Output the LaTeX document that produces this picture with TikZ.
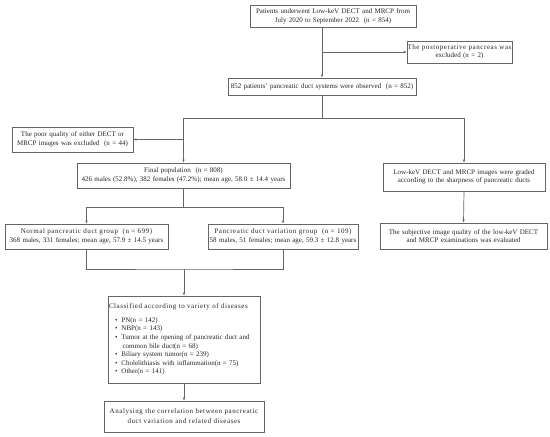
\documentclass[tikz,border=0pt]{standalone}
\usepackage{fontspec}
\setmainfont{Liberation Serif}
\usetikzlibrary{arrows.meta}
\newcommand{\spaced}[1]{{\addfontfeature{LetterSpace=8}#1}}

\begin{document}
\begin{tikzpicture}[x=1pt,y=-1pt,
		box/.style={draw=black!60,line width=0.7pt,inner sep=0pt,align=center,text=black!85,
			font=\fontsize{7}{8.6}\selectfont},
		ln/.style={draw=black!60,line width=0.7pt},
		arr/.style={ln,-{Latex[length=3pt,width=2.6pt]}}]
	\useasboundingbox (0,0) rectangle (550,437);
	
	% Boxes
	\node[box,text width=166pt,minimum height=22pt] (pat) at (333,16)
		{Patients underwent Low-keV DECT and MRCP from\\July 2020 to September 2022~~(n = 854)};
	\node[box,text width=105pt,minimum height=22pt] (post) at (459.5,52)
		{\spaced{The postoperative pancreas was}\\excluded (n = 2)};
	\node[box,text width=188pt,minimum height=17pt] (obs) at (322,86.5)
		{852 patients' pancreatic duct systems were observed~~(n = 852)};
	\node[box,text width=121pt,minimum height=25pt] (poor) at (72.5,139.5)
		{The poor quality of either DECT or\\MRCP images was excluded~~(n = 44)};
	\node[box,text width=213pt,minimum height=25pt] (final) at (183.5,175.5)
		{Final population~~(n = 808)\\426 males (52.8\%), 382 females (47.2\%); mean age, 58.0 ± 14.4 years};
	\node[box,text width=162pt,minimum height=28pt] (grade) at (464,177)
		{Low-keV DECT and MRCP images were graded\\according to the sharpness of pancreatic ducts};
	\node[box,text width=163pt,minimum height=25pt] (norm) at (86.5,236.5)
		{\spaced{Normal pancreatic duct group~~(n = 699)}\\368 males, 331 females; mean age, 57.9 ± 14.5 years};
	\node[box,text width=150pt,minimum height=25pt] (var) at (283,236.5)
		{\spaced{Pancreatic duct variation group~~(n = 109)}\\58 males, 51 females; mean age, 59.3 ± 12.8 years};
	\node[box,text width=167pt,minimum height=26pt] (subj) at (463.5,236)
		{The subjective image quality of the low-keV DECT\\and MRCP examinations was evaluated};
	\node[box,text width=150pt,minimum height=87pt,align=left,inner xsep=1pt] (cls) at (184,339.5)
		{\spaced{Classified according to variety of diseases}\\[5pt]
		\hspace*{6pt}\textbullet\hspace{4pt}PN(n = 142)\\
		\hspace*{6pt}\textbullet\hspace{4pt}NBP(n = 143)\\
		\hspace*{6pt}\textbullet\hspace{4pt}Tumor at the opening of pancreatic duct and\\
		\hspace*{13.5pt}common bile duct(n = 68)\\
		\hspace*{6pt}\textbullet\hspace{4pt}Biliary system tumor(n = 239)\\
		\hspace*{6pt}\textbullet\hspace{4pt}Cholelithiasis with inflammation(n = 75)\\
		\hspace*{6pt}\textbullet\hspace{4pt}Other(n = 141)};
	\node[box,text width=160pt,minimum height=31pt,font=\fontsize{7}{10}\selectfont] (ana) at (184,416.5)
		{\spaced{Analysing the correlation between pancreatic}\\\spaced{duct variation and related diseases}};
	
	% Split and merge points
	\coordinate (s1) at (322,118);
	\coordinate (s2) at (183.5,207);
	\coordinate (m) at (184,269);
	
	% Connectors
	\draw[arr] (pat.south -| obs.north) -- (obs.north);
	\draw[arr] (obs.north |- post.west) -- (post.west);
	\draw[ln] (obs.south) -- (s1);
	\draw[arr] (s1) -| (final.north);
	\draw[arr] (s1) -| (grade.north);
	\draw[arr] (final.north |- poor.east) -- (poor.east);
	\draw[arr] (grade.south) -- (subj.north);
	\draw[ln] (final.south) -- (s2);
	\draw[arr] (s2) -| (norm.north);
	\draw[arr] (s2) -| (var.north);
	\draw[ln] (norm.south) |- (m) -| (var.south);
	\draw[arr] (m) -- (cls.north);
	\draw[arr] (cls.south) -- (ana.north);
\end{tikzpicture}
\end{document}
